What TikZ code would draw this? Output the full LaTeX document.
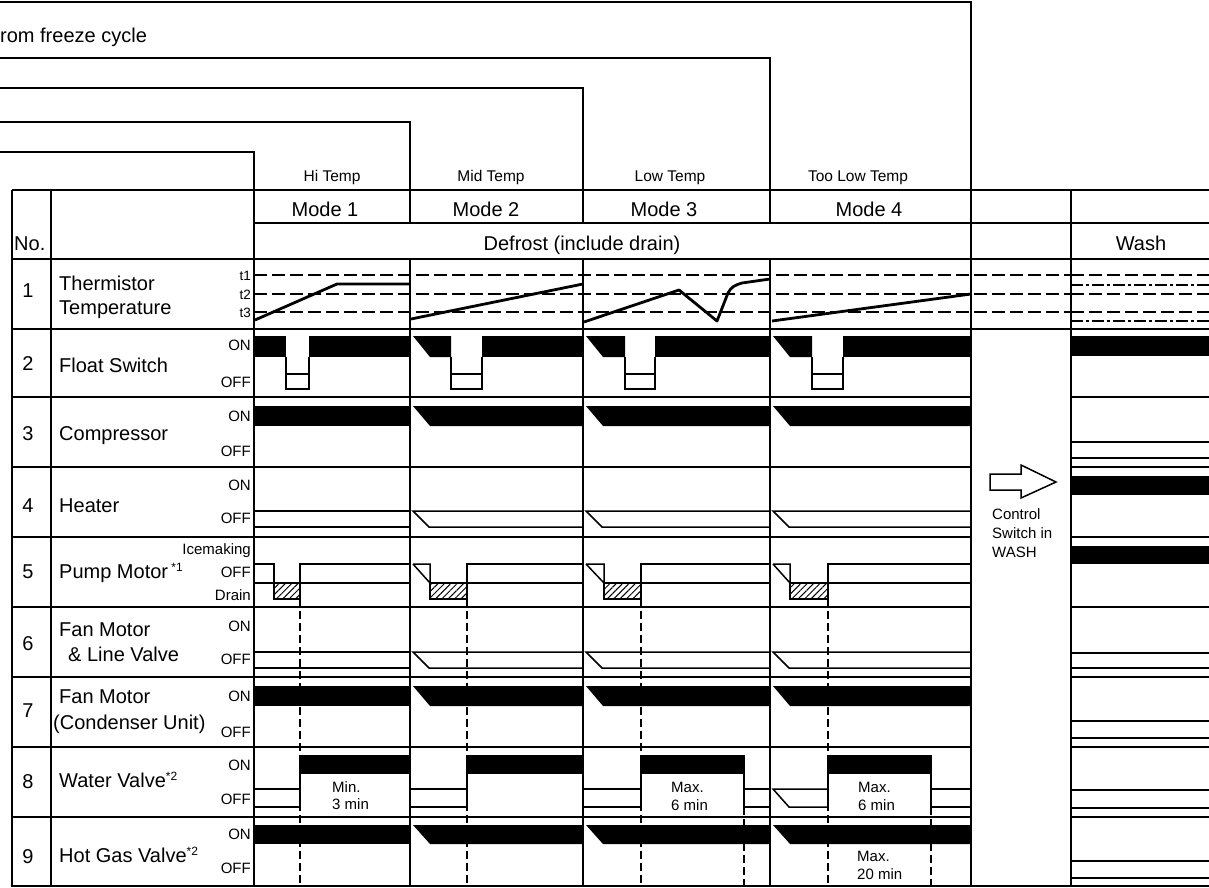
\documentclass[tikz,border=0pt]{standalone}
\usepackage{fontspec}
\setmainfont{Liberation Sans}
\usetikzlibrary{patterns.meta}

\tikzset{
  grid/.style={line width=1.5pt},
  sig/.style={line width=1.5pt},
  curve/.style={line width=2.8pt, line join=round},
  thdash/.style={line width=1.4pt, dash pattern=on 13pt off 5pt},
  dashdotline/.style={line width=1.4pt, dash pattern=on 12pt off 3pt on 3pt off 3pt},
  tdash/.style={line width=1.8pt, dash pattern=on 8pt off 4pt},
  hatch/.style={pattern={Lines[angle=45,distance=4.5pt,line width=1pt]}},
  big/.style={font=\fontsize{20}{24}\selectfont, inner sep=0pt},
  hdr/.style={font=\fontsize{15.5}{18}\selectfont, inner sep=0pt},
  sm/.style={font=\fontsize{15}{18}\selectfont, inner sep=0pt},
  tiny/.style={font=\fontsize{13.5}{16}\selectfont, inner sep=0pt},
}

% filled band, plain / slanted start
\newcommand\FBand[4]{\fill (#1,#3) rectangle (#2,#4);}
\newcommand\FBandS[4]{\fill (#1+3,#3) -- (#2,#3) -- (#2,#4) -- (#1+20,#4) -- cycle;}
% hollow band, plain / slanted start
\newcommand\HBand[4]{\draw[sig] (#1,#3) -- (#2,#3) (#1,#4) -- (#2,#4);}
\newcommand\HBandS[4]{\draw[sig] (#2,#3) -- (#1+3,#3) -- (#1+19,#4) -- (#2,#4);}
% float switch notch
\newcommand\Notch[2]{\draw[sig] (#1,357) -- (#1,389) -- (#2,389) -- (#2,357) (#1,374) -- (#2,374);}
% pump motor with slanted start
\newcommand\PumpS[4]{%
  \draw[sig] (#1+3,564) -- (#2,564) -- (#2,599) (#1+3,564) -- (#2,583);
  \draw[sig,hatch] (#2,583) rectangle (#3,599);
  \draw[sig] (#3,599) -- (#3,564) -- (#4,564) (#3,583) -- (#4,583);}
% water valve step edge
\newcommand\WEdge[1]{\draw[sig] (#1,807) -- (#1,755);}

\begin{document}
\begin{tikzpicture}[x=1pt,y=-1pt]
\useasboundingbox (0,0) rectangle (1209,888);

% ---------- timing dashed verticals (behind bands) ----------
\draw[tdash] (300,599) -- (300,886);
\draw[tdash] (467,599) -- (467,886);
\draw[tdash] (641,599) -- (641,886);
\draw[tdash] (828,599) -- (828,886);
\draw[tdash] (744,807) -- (744,886);
\draw[tdash] (931,807) -- (931,886);

% ---------- header frame ----------
\draw[grid] (0,2) -- (971,2) -- (971,886);
\draw[grid] (0,58) -- (770,58) -- (770,223) (770,259) -- (770,886);
\draw[grid] (0,88) -- (583,88) -- (583,223) (583,259) -- (583,886);
\draw[grid] (0,122) -- (410,122) -- (410,223) (410,259) -- (410,886);
\draw[grid] (0,152) -- (254,152) -- (254,886);

% ---------- table ----------
\draw[grid] (12,190) -- (1209,190);
\draw[grid] (12,190) -- (12,886) -- (1209,886);
\draw[grid] (51,190) -- (51,886);
\draw[grid] (1071,190) -- (1071,886);
\draw[grid] (254,223) -- (1209,223);
\draw[grid] (12,259) -- (1209,259);
\draw[grid] (12,329) -- (1209,329);
\foreach \yy in {397,467,537,607,677,747,817}{
  \draw[grid] (12,\yy) -- (971,\yy) (1071,\yy) -- (1209,\yy);
}

% ---------- header texts ----------
\node[big, anchor=base west] (fz) at (0,43) {rom freeze cycle};
\node[hdr, anchor=base] (hi) at (332,181) {Hi Temp};
\node[hdr, anchor=base] (mid) at (491,181) {Mid Temp};
\node[hdr, anchor=base] (low) at (670,181) {Low Temp};
\node[hdr, anchor=base] (tlow) at (858,181) {Too Low Temp};
\node[big, anchor=base] (m1) at (325,216) {Mode 1};
\node[big, anchor=base] (m2) at (486,216) {Mode 2};
\node[big, anchor=base] (m3) at (664,216) {Mode 3};
\node[big, anchor=base] (m4) at (869,216) {Mode 4};
\node[big, anchor=base west] (no) at (14,250) {No.};
\node[big, anchor=base] (def) at (582,250) {Defrost (include drain)};
\node[big, anchor=base] (wash) at (1141,250) {Wash};

% ---------- row labels ----------
\node[big, anchor=base] (n1) at (28,297) {1};
\node[big, anchor=base west] (l1a) at (59,290) {Thermistor};
\node[big, anchor=base west] (l1b) at (59,314) {Temperature};
\node[big, anchor=base] (n2) at (28,370) {2};
\node[big, anchor=base west] (l2) at (59,372) {Float Switch};
\node[big, anchor=base] (n3) at (28,440) {3};
\node[big, anchor=base west] (l3) at (59,440) {Compressor};
\node[big, anchor=base] (n4) at (28,512) {4};
\node[big, anchor=base west] (l4) at (59,512) {Heater};
\node[big, anchor=base] (n5) at (28,578) {5};
\node[big, anchor=base west] (l5) at (59,578) {Pump Motor\,\raisebox{7pt}{\fontsize{12}{12}\selectfont *1}};
\node[big, anchor=base] (n6) at (28,650) {6};
\node[big, anchor=base west] (l6a) at (59,636) {Fan Motor};
\node[big, anchor=base west] (l6b) at (68,661) {\& Line Valve};
\node[big, anchor=base] (n7) at (28,717) {7};
\node[big, anchor=base west] (l7a) at (59,703) {Fan Motor};
\node[big, anchor=base west] (l7b) at (53,729) {(Condenser Unit)};
\node[big, anchor=base] (n8) at (28,788) {8};
\node[big, anchor=base west] (l8) at (59,787) {Water Valve\raisebox{7pt}{\fontsize{12}{12}\selectfont *2}};
\node[big, anchor=base] (n9) at (28,863) {9};
\node[big, anchor=base west] (l9) at (59,862) {Hot Gas Valve\raisebox{7pt}{\fontsize{12}{12}\selectfont *2}};

% state labels
\node[tiny, anchor=base east] (t1) at (251,280) {t1};
\node[tiny, anchor=base east] (t2) at (251,299) {t2};
\node[tiny, anchor=base east] (t3) at (251,317) {t3};
\node[sm, anchor=base east] (s2a) at (251,350) {ON};
\node[sm, anchor=base east] (s2b) at (251,387) {OFF};
\node[sm, anchor=base east] (s3a) at (251,421) {ON};
\node[sm, anchor=base east] (s3b) at (251,456) {OFF};
\node[sm, anchor=base east] (s4a) at (251,490) {ON};
\node[sm, anchor=base east] (s4b) at (251,523) {OFF};
\node[sm, anchor=base east] (s5a) at (251,554) {Icemaking};
\node[sm, anchor=base east] (s5b) at (251,577) {OFF};
\node[sm, anchor=base east] (s5c) at (251,600) {Drain};
\node[sm, anchor=base east] (s6a) at (251,631) {ON};
\node[sm, anchor=base east] (s6b) at (251,664) {OFF};
\node[sm, anchor=base east] (s7a) at (251,701) {ON};
\node[sm, anchor=base east] (s7b) at (251,737) {OFF};
\node[sm, anchor=base east] (s8a) at (251,770) {ON};
\node[sm, anchor=base east] (s8b) at (251,804) {OFF};
\node[sm, anchor=base east] (s9a) at (251,839) {ON};
\node[sm, anchor=base east] (s9b) at (251,873) {OFF};

% ---------- row 1: thermistor ----------
\foreach \yy in {275,294,312}{
  \draw[thdash] (254,\yy) -- (1071,\yy);
  \draw[thdash] (1071,\yy) -- (1209,\yy);
}
\draw[dashdotline] (1071,285) -- (1209,285);
\draw[dashdotline] (1071,321) -- (1209,321);
\draw[curve] (255,320) -- (337,284) -- (410,284);
\draw[curve] (411,319) -- (583,284);
\draw[curve] (584,322) -- (679,290) -- (717,321) -- (728,293)
  .. controls (731,287) and (735,285) .. (742,283) -- (770,279);
\draw[curve] (772,321) -- (971,294);

% ---------- row 2: float switch ----------
\FBand{254}{286}{336}{357}
\FBand{309}{410}{336}{357}
\Notch{286}{309}
\FBandS{410}{451}{336}{357}
\FBand{482}{583}{336}{357}
\Notch{451}{482}
\FBandS{583}{625}{336}{357}
\FBand{655}{770}{336}{357}
\Notch{625}{655}
\FBandS{770}{812}{336}{357}
\FBand{843}{971}{336}{357}
\Notch{812}{843}
\FBand{1071}{1209}{336}{356}

% ---------- row 3: compressor ----------
\FBand{254}{410}{406}{426}
\FBandS{410}{583}{406}{426}
\FBandS{583}{770}{406}{426}
\FBandS{770}{971}{406}{426}
\HBand{1071}{1209}{442}{458}

% ---------- row 4: heater ----------
\HBand{254}{410}{511}{527}
\HBandS{410}{583}{511}{527}
\HBandS{583}{770}{511}{527}
\HBandS{770}{971}{511}{527}
\FBand{1071}{1209}{476}{495}

% ---------- row 5: pump motor ----------
\draw[sig] (254,564) -- (274,564) -- (274,599) (254,583) -- (274,583);
\draw[sig,hatch] (274,583) rectangle (300,599);
\draw[sig] (300,599) -- (300,564) -- (410,564) (300,583) -- (410,583);
\PumpS{410}{430}{467}{583}
\PumpS{583}{604}{641}{770}
\PumpS{770}{790}{828}{971}
\FBand{1071}{1209}{546}{564}

% ---------- row 6: fan motor & line valve ----------
\HBand{254}{410}{652}{668}
\HBandS{410}{583}{652}{668}
\HBandS{583}{770}{652}{668}
\HBandS{770}{971}{652}{668}
\HBand{1071}{1209}{653}{668}

% ---------- row 7: fan motor (condenser unit) ----------
\FBand{254}{410}{686}{706}
\FBandS{410}{583}{686}{706}
\FBandS{583}{770}{686}{706}
\FBandS{770}{971}{686}{706}
\HBand{1071}{1209}{721}{738}

% ---------- row 8: water valve ----------
\HBand{254}{300}{789}{807}
\WEdge{300}
\FBand{300}{410}{755}{774}
\HBand{410}{467}{789}{807}
\WEdge{467}
\FBand{467}{583}{755}{774}
\HBand{583}{641}{789}{807}
\WEdge{641}
\FBand{641}{744}{755}{774}
\WEdge{744}
\HBand{744}{770}{789}{807}
\HBandS{770}{828}{789}{807}
\WEdge{828}
\FBand{828}{931}{755}{774}
\WEdge{931}
\HBand{931}{971}{789}{807}
\HBand{1071}{1209}{790}{808}
\node[sm, anchor=base west] (w1a) at (332,792) {Min.};
\node[sm, anchor=base west] (w1b) at (332,809) {3 min};
\node[sm, anchor=base west] (w3a) at (671,792) {Max.};
\node[sm, anchor=base west] (w3b) at (671,810) {6 min};
\node[sm, anchor=base west] (w4a) at (858,792) {Max.};
\node[sm, anchor=base west] (w4b) at (858,810) {6 min};

% ---------- row 9: hot gas valve ----------
\FBand{254}{410}{825}{844}
\FBandS{410}{583}{825}{844}
\FBandS{583}{770}{825}{844}
\FBandS{770}{971}{825}{844}
\HBand{1071}{1209}{861}{878}
\node[sm, anchor=base west] (h4a) at (857,861) {Max.};
\node[sm, anchor=base west] (h4b) at (857,879) {20 min};

% ---------- control switch column ----------
\draw[line width=1.5pt, line join=miter] (990,474) -- (1021,474) -- (1021,465)
  -- (1056,482) -- (1021,498) -- (1021,490) -- (990,490) -- cycle;
\node[sm, anchor=base west] (c1) at (992,519) {Control};
\node[sm, anchor=base west] (c2) at (992,538) {Switch in};
\node[sm, anchor=base west] (c3) at (992,557) {WASH};

\end{tikzpicture}
\end{document}
